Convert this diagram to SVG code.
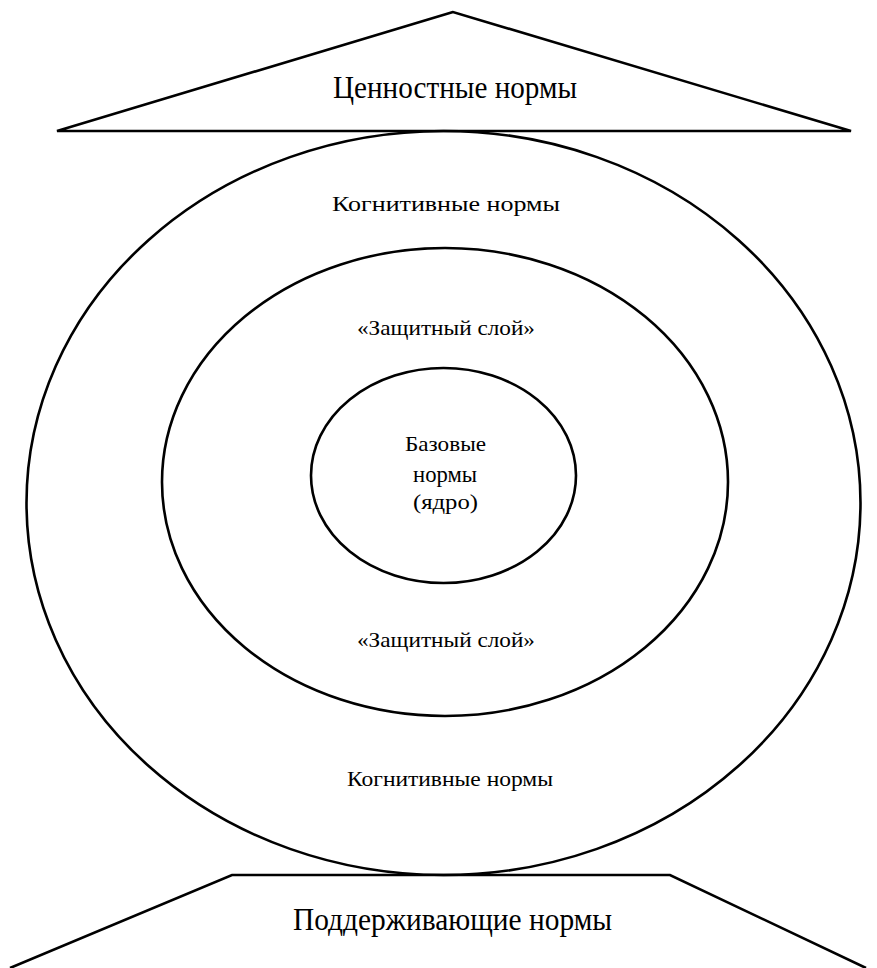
<svg xmlns="http://www.w3.org/2000/svg" width="877" height="968" viewBox="0 0 877 968">
<style>
.s{fill:none;stroke:#000;stroke-width:2.6;stroke-linejoin:miter}
.t{font-family:"Liberation Serif","Times New Roman",serif;fill:#000}
.big{font-size:31px}
.sm{font-size:21px}
</style>
<rect width="877" height="968" fill="#fff"/>
<g id="outer-ellipse">
<ellipse class="s" cx="443.5" cy="503" rx="417" ry="372"/>
<text class="t sm" x="332" y="211" textLength="228" lengthAdjust="spacingAndGlyphs">Когнитивные нормы</text>
<text class="t sm" x="347" y="786" textLength="206" lengthAdjust="spacingAndGlyphs">Когнитивные нормы</text>
</g>
<g id="middle-ellipse">
<ellipse class="s" cx="445" cy="482" rx="283" ry="234"/>
<text class="t sm" x="357" y="335" textLength="178" lengthAdjust="spacingAndGlyphs">«Защитный слой»</text>
<text class="t sm" x="357" y="647" textLength="178" lengthAdjust="spacingAndGlyphs">«Защитный слой»</text>
</g>
<g id="core">
<ellipse class="s" cx="443.5" cy="475.5" rx="132.5" ry="107.5"/>
<text class="t" font-size="21" x="405" y="451" textLength="81" lengthAdjust="spacingAndGlyphs">Базовые</text>
<text class="t" font-size="23" x="413" y="482" textLength="64" lengthAdjust="spacingAndGlyphs">нормы</text>
<text class="t" font-size="22" x="413" y="509" textLength="65" lengthAdjust="spacingAndGlyphs">(ядро)</text>
</g>
<g id="value-norms">
<polygon class="s" points="453,12 57,131 851,131"/>
<text class="t big" x="333" y="98" textLength="244" lengthAdjust="spacingAndGlyphs">Ценностные нормы</text>
</g>
<g id="supporting-norms">
<polyline class="s" points="10,968 232,875 670,875 866,968"/>
<text class="t big" x="293" y="930" textLength="319" lengthAdjust="spacingAndGlyphs">Поддерживающие нормы</text>
</g>
<g id="connectors"></g>
</svg>
